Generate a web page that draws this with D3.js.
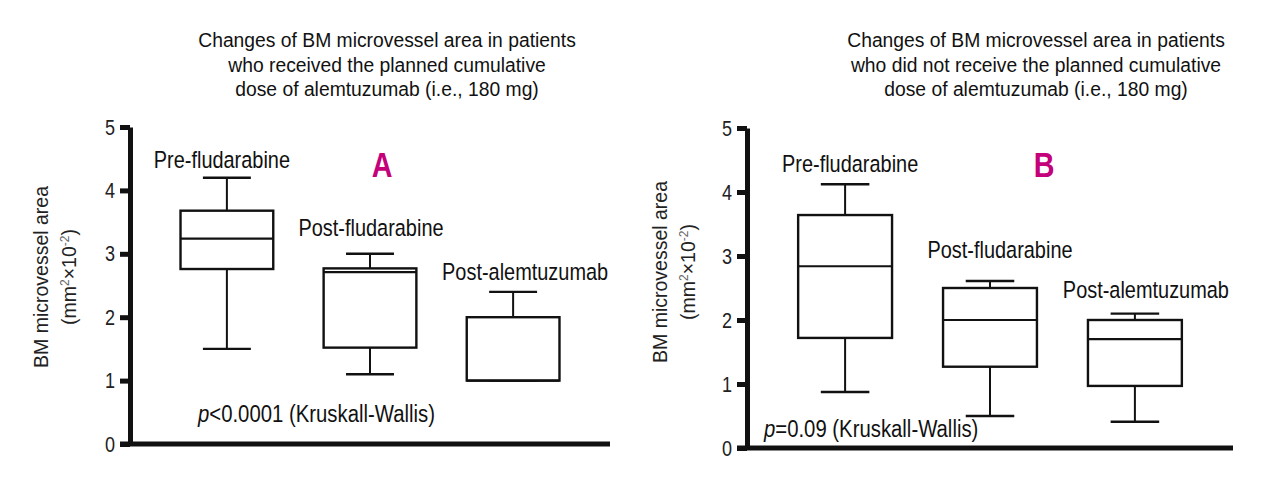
<!DOCTYPE html>
<html>
<head>
<meta charset="utf-8">
<script src="https://cdn.jsdelivr.net/npm/d3@7"></script>
<style>
	body { margin: 0; background: #fff; }
	svg { display: block; }
	.narrow { font-family: "Liberation Sans", Arial, sans-serif; }
	.reg { font-family: "Liberation Sans", Arial, sans-serif; }
</style>
</head>
<body>
<div id="chart"></div>
<script>
// categories shared by both panels
const categories = ['Pre-fludarabine', 'Post-fludarabine', 'Post-alemtuzumab'];
const yTicks = [0, 1, 2, 3, 4, 5];

// panel A: patients who received 180 mg
const aLow    = [1.5, 1.1, 1.0];
const aQ1     = [2.76, 1.52, 1.0];
const aMedian = [3.24, 2.71, 1.0];
const aQ3     = [3.68, 2.77, 2.0];
const aHigh   = [4.2, 3.0, 2.4];

// panel B: patients who did not receive 180 mg
const bLow    = [0.875, 0.5, 0.41];
const bQ1     = [1.72, 1.27, 0.97];
const bMedian = [2.84, 2.0, 1.7];
const bQ3     = [3.64, 2.5, 2.0];
const bHigh   = [4.12, 2.61, 2.1];

const titleA = ['Changes of BM microvessel area in patients', 'who received the planned cumulative', 'dose of alemtuzumab (i.e., 180 mg)'];
const titleB = ['Changes of BM microvessel area in patients', 'who did not receive the planned cumulative', 'dose of alemtuzumab (i.e., 180 mg)'];

// no condensed face installed, so squeeze Liberation Sans sideways
const SQUEEZE = 0.82;

function rows(lo, q1, med, q3, hi) {
	return categories.map(function(c, i) {
		return { name: c, lo: lo[i], q1: q1[i], med: med[i], q3: q3[i], hi: hi[i] };
	});
}

let svg = d3.select('#chart')
	.append('svg')
	.attr('width', 1280)
	.attr('height', 477);

function narrowText(parent, x, y, size, anchor, squeeze) {
	return parent.append('g')
		.attr('transform', 'translate(' + x + ',' + y + ') scale(' + (squeeze || SQUEEZE) + ',1)')
		.append('text')
		.attr('class', 'narrow')
		.attr('text-anchor', anchor)
		.attr('font-size', size)
		.attr('fill', '#111');
}

function drawPanel(cfg, data) {
	let y = d3.scaleLinear()
		.domain([0, 5])
		.range([cfg.bottom, cfg.top]);

	let x = d3.scalePoint()
		.domain(categories)
		.range([cfg.axisX, cfg.right])
		.padding(0.677);

	let step = x.step(),
		boxW = step * 0.648,
		capW = step * 0.335;

	let g = svg.append('g');

	// title, three tight lines
	cfg.title.forEach(function(line, i) {
		narrowText(g, cfg.titleX, 47 + i * 24.5, 21, 'middle', 0.92).text(line);
	});

	// y axis
	let axis = g.append('g')
		.attr('transform', 'translate(' + cfg.axisX + ',0)')
		.call(d3.axisLeft(y).tickValues(yTicks).tickSize(10).tickSizeOuter(0).tickPadding(5).tickFormat(d3.format('d')));

	axis.attr('font-family', null).attr('font-size', null);
	axis.select('.domain').attr('stroke', '#111').attr('stroke-width', 5);
	axis.selectAll('.tick line').attr('stroke', '#111').attr('stroke-width', 5);
	axis.selectAll('.tick text')
		.attr('class', 'narrow')
		.attr('font-size', 22)
		.attr('fill', '#222')
		.attr('x', -15 / SQUEEZE)
		.attr('transform', 'scale(' + SQUEEZE + ',1)');

	// x axis line
	g.append('line')
		.attr('x1', cfg.axisX - 10)
		.attr('x2', cfg.right)
		.attr('y1', y(0))
		.attr('y2', y(0))
		.attr('stroke', '#111')
		.attr('stroke-width', 5);

	// y axis label
	let yl = g.append('g').attr('class', 'reg').attr('fill', '#222').attr('font-size', 19.5);
	yl.append('text')
		.attr('transform', 'translate(' + cfg.labelX + ',' + cfg.labelY + ') rotate(-90)')
		.attr('text-anchor', 'middle')
		.text('BM microvessel area');
	let l2 = yl.append('text')
		.attr('transform', 'translate(' + (cfg.labelX + 28) + ',' + cfg.labelY + ') rotate(-90)')
		.attr('text-anchor', 'middle');
	l2.append('tspan').text('(mm');
	l2.append('tspan').attr('font-size', 12).attr('dy', -7).attr('fill', '#666').text('2');
	l2.append('tspan').attr('dy', 7).text('×10');
	l2.append('tspan').attr('font-size', 12).attr('dy', -7).attr('fill', '#666').text('-2');
	l2.append('tspan').attr('dy', 7).text(')');

	// boxes
	let box = g.selectAll('.box')
		.data(data)
		.enter().append('g')
		.attr('class', 'box')
		.attr('stroke', '#111')
		.attr('fill', 'none');

	box.append('line')
		.attr('x1', function(d) { return x(d.name); })
		.attr('x2', function(d) { return x(d.name); })
		.attr('y1', function(d) { return y(d.hi); })
		.attr('y2', function(d) { return y(d.q3); })
		.attr('stroke-width', 2);

	box.append('line')
		.attr('x1', function(d) { return x(d.name); })
		.attr('x2', function(d) { return x(d.name); })
		.attr('y1', function(d) { return y(d.q1); })
		.attr('y2', function(d) { return y(d.lo); })
		.attr('stroke-width', 2);

	box.append('line')
		.attr('x1', function(d) { return x(d.name) - capW / 2; })
		.attr('x2', function(d) { return x(d.name) + capW / 2; })
		.attr('y1', function(d) { return y(d.hi); })
		.attr('y2', function(d) { return y(d.hi); })
		.attr('stroke-width', 2.4);

	box.append('line')
		.attr('x1', function(d) { return x(d.name) - capW / 2; })
		.attr('x2', function(d) { return x(d.name) + capW / 2; })
		.attr('y1', function(d) { return y(d.lo); })
		.attr('y2', function(d) { return y(d.lo); })
		.attr('stroke-width', 2.4);

	box.append('rect')
		.attr('x', function(d) { return x(d.name) - boxW / 2; })
		.attr('y', function(d) { return y(d.q3); })
		.attr('width', boxW)
		.attr('height', function(d) { return y(d.q1) - y(d.q3); })
		.attr('fill', '#fff')
		.attr('stroke-width', 2.4);

	box.append('line')
		.attr('x1', function(d) { return x(d.name) - boxW / 2; })
		.attr('x2', function(d) { return x(d.name) + boxW / 2; })
		.attr('y1', function(d) { return y(d.med); })
		.attr('y2', function(d) { return y(d.med); })
		.attr('stroke-width', 2.2);

	// category labels above each box
	data.forEach(function(d, i) {
		narrowText(g, x(d.name) + cfg.catDx[i], y(d.hi) - cfg.catDy[i], 24.3, 'middle').text(d.name);
	});

	// panel letter
	narrowText(g, cfg.letterX, 177, 35, 'middle')
		.attr('font-weight', 'bold')
		.attr('fill', '#c4007a')
		.text(cfg.letter);

	// test note
	let p = narrowText(g, cfg.noteX, cfg.noteY, 24.8, 'start');
	p.append('tspan').attr('font-style', 'italic').text('p');
	p.append('tspan').text(cfg.note);
}

drawPanel({
	axisX: 130, right: 610, top: 127, bottom: 444,
	title: titleA, titleX: 387,
	labelX: 48, labelY: 277,
	catDx: [-5, 1, 12], catDy: [10, 18, 12],
	letter: 'A', letterX: 382,
	note: '<0.0001 (Kruskall-Wallis)', noteX: 198, noteY: 422
}, rows(aLow, aQ1, aMedian, aQ3, aHigh));

drawPanel({
	axisX: 747, right: 1233, top: 128, bottom: 448,
	title: titleB, titleX: 1036,
	labelX: 667, labelY: 272,
	catDx: [5, 10, 11], catDy: [12, 23, 16],
	letter: 'B', letterX: 1044,
	note: '=0.09 (Kruskall-Wallis)', noteX: 764, noteY: 437
}, rows(bLow, bQ1, bMedian, bQ3, bHigh));
</script>
</body>
</html>
